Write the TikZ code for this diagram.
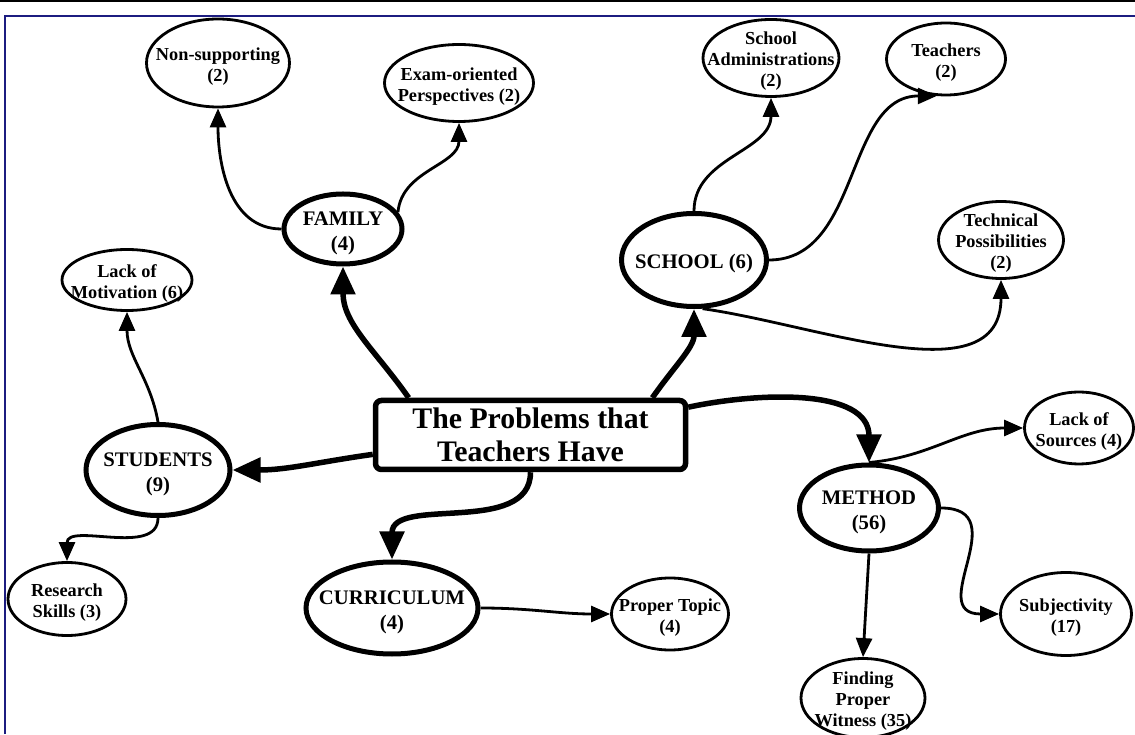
\documentclass[tikz,border=0pt]{standalone}
\usepackage{fontspec}
\setmainfont{Liberation Serif}
\usetikzlibrary{shapes.geometric,arrows.meta}

\begin{document}
\begin{tikzpicture}[x=1pt, y=1pt,
  leaf/.style={ellipse, draw, line width=\thinw, inner sep=0pt, font=\bfseries\fontsize{18.3}{21}\selectfont},
  topic/.style={ellipse, draw, line width=\thickw, inner sep=0pt, font=\bfseries\fontsize{20.7}{25}\selectfont},
  rootbox/.style={rectangle, draw, rounded corners=6pt, line width=5.5pt, minimum width=310pt, minimum height=69pt, align=center, font=\bfseries\fontsize{29.8}{33}\selectfont},
  mainlink/.style={line width=5.5pt, -{Triangle[length=28pt, width=24pt]}},
  sublink/.style={line width=\thinw, -{Triangle[length=19pt, width=16pt]}}]

%─────────────
% Controls
%─────────────
\def\thinw{2.8pt}   % leaf outlines and thin links
\def\thickw{5pt}    % topic outlines
\definecolor{framenavy}{rgb}{0.11,0.11,0.5}  % page frame

% Text of a bubble, boxed to zero size so the ellipse keeps its given size
\newcommand{\bubbleText}[1]{%
  \makebox[0pt]{\smash{\raisebox{-.95ex}{\begin{tabular}{@{}c@{}}#1\end{tabular}}}}%
}

\useasboundingbox (0,0) rectangle (1135,734);
\clip (0,0) rectangle (1135,734);

%─────────────
% Page frame
%─────────────
\draw[line width=4pt] (0,734) -- (1135,734);
\draw[framenavy, line width=2.5pt] (5,0) -- (5,718) -- (1135,718);

%─────────────
% Centre and topics
%─────────────
\node[rootbox] (root) at (530.5,299) {The Problems that\\Teachers Have};

\node[topic, minimum width=118pt, minimum height=70pt] (family)   at (343,505) {\bubbleText{FAMILY\\(4)}};
\node[topic, minimum width=145pt, minimum height=93pt] (school)   at (694,474) {\bubbleText{SCHOOL (6)}};
\node[topic, minimum width=144pt, minimum height=91pt] (students) at (158,264) {\bubbleText{STUDENTS\\(9)}};
\node[topic, minimum width=172pt, minimum height=92pt] (curric)   at (392,126) {\bubbleText{CURRICULUM\\(4)}};
\node[topic, minimum width=139pt, minimum height=86pt] (method)   at (869,226) {\bubbleText{METHOD\\(56)}};

%─────────────
% Sub-problems
%─────────────
\node[leaf, minimum width=143pt, minimum height=88pt] (nonsup)   at (218,671)  {\bubbleText{Non-supporting\\(2)}};
\node[leaf, minimum width=149pt, minimum height=77pt] (exam)     at (459,651)  {\bubbleText{Exam-oriented\\Perspectives (2)}};
\node[leaf, minimum width=136pt, minimum height=77pt] (admin)    at (771,676)  {\bubbleText{School\\Administrations\\(2)}};
\node[leaf, minimum width=119pt, minimum height=72pt] (teach)    at (946,675)  {\bubbleText{Teachers\\(2)}};
\node[leaf, minimum width=125pt, minimum height=77pt] (techn)    at (1001,494) {\bubbleText{Technical\\Possibilities\\(2)}};
\node[leaf, minimum width=130pt, minimum height=61pt] (motiv)    at (127,454)  {\bubbleText{Lack of\\Motivation (6)}};
\node[leaf, minimum width=118pt, minimum height=73pt] (research) at (67,135)   {\bubbleText{Research\\Skills (3)}};
\node[leaf, minimum width=117pt, minimum height=72pt] (proper)   at (670,120)  {\bubbleText{Proper Topic\\(4)}};
\node[leaf, minimum width=109pt, minimum height=72pt] (sources)  at (1079,306) {\bubbleText{Lack of\\Sources (4)}};
\node[leaf, minimum width=131pt, minimum height=83pt] (subj)     at (1066,120) {\bubbleText{Subjectivity\\(17)}};
\node[leaf, minimum width=124pt, minimum height=79pt] (witness)  at (863,36)   {\bubbleText{Finding\\Proper\\Witness (35)}};

%─────────────
% Links from the centre
%─────────────
\draw[mainlink] (root.163) to[out=125, in=-90] (family.south);
\draw[mainlink] (root.17)  to[out=55, in=-90]  (school.south);
\draw[mainlink] (root.187) to[out=188, in=0]   (students.east);
\draw[mainlink] (root.south) to[out=-90, in=90] (curric.north);
\draw[mainlink] (root.10)  to[out=12, in=90]   (method.north);

%─────────────
% Links to sub-problems
%─────────────
\draw[sublink] (family.west) to[out=180, in=-90] (nonsup.south);
\draw[sublink] (family.17)   to[out=85, in=-90]  (exam.south);
\draw[sublink] (school.north) to[out=90, in=-90] (admin.south);
\draw[sublink] (school.east) to[out=0, in=180]   (teach.256);
\draw[sublink] (school.-80)  to[out=-8, in=-90]  (techn.south);
\draw[sublink] (students.north) to[out=100, in=-90] (motiv.south);
\draw[sublink] (students.south) to[out=-90, in=90]  (research.north);
\draw[sublink] (curric.east) to[out=0, in=180]   (proper.west);
\draw[sublink] (method.north) to[out=5, in=180]  (sources.west);
\draw[sublink] (method.east) to[out=0, in=180, looseness=1.6] (subj.west);
\draw[sublink] (method.south) -- (witness.north);
\end{tikzpicture}
\end{document}
